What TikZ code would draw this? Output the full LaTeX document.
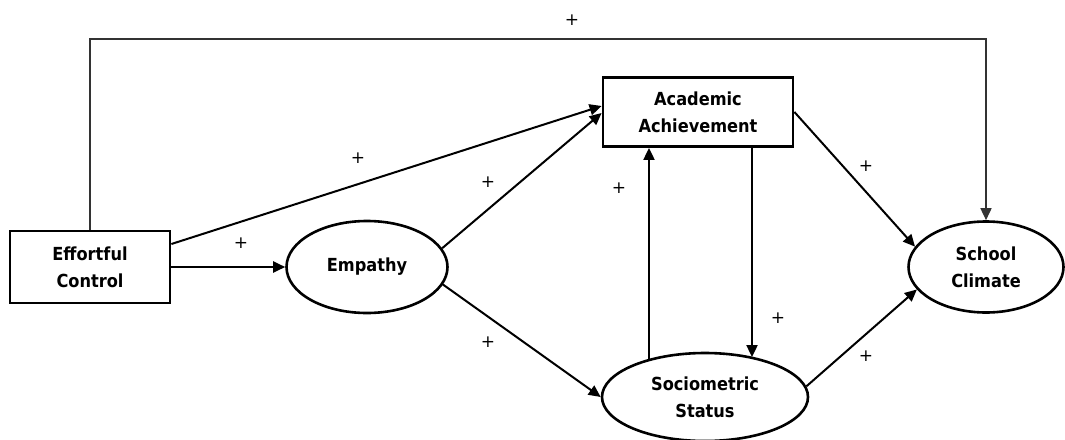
\documentclass[tikz,border=0pt]{standalone}
\usepackage{fontspec}
\setmainfont{DejaVu Sans}
\newfontfamily\boxfont{DejaVu Sans Condensed}
\usetikzlibrary{arrows.meta,shapes.geometric}
\begin{document}
\begin{tikzpicture}[x=1pt,y=-1pt,
  label/.style={font=\boxfont\bfseries\fontsize{18}{27}\selectfont,align=center,inner sep=0pt},
  boxnode/.style={label,draw,line width=2.8pt,rectangle},
  ovalnode/.style={label,draw,line width=2.6pt,ellipse},
  conn/.style={line width=2pt,-{Triangle[length=12pt,width=11pt]}},
  sign/.style={font=\fontsize{17}{17}\selectfont,inner sep=0pt}]
\useasboundingbox (0,0) rectangle (1065,439);

% constructs
\node[boxnode,minimum width=160pt,minimum height=72pt] (ec) at (90,267) {Effortful\\Control};
\node[boxnode,minimum width=190pt,minimum height=69pt] (aa) at (698,112) {Academic\\Achievement};
\node[ovalnode,minimum width=161pt,minimum height=92pt] (emp) at (367,267) {Empathy};
\node[ovalnode,minimum width=206pt,minimum height=88pt] (soc) at (705,397) {Sociometric\\Status};
\node[ovalnode,minimum width=155pt,minimum height=91pt] (sc) at (986,267) {School\\Climate};

% direct path over the top
\coordinate (ridge) at (0,39);
\draw[conn,line width=1.6pt,draw=black!80] (ec.north) |- (sc.north |- ridge) -- (sc.north);

% feet of the two vertical paths between achievement and status
\coordinate (upfoot) at ([xshift=-49pt]aa.south);
\coordinate (downfoot) at ([xshift=54pt]aa.south);

% paths
\draw[conn] ([yshift=23pt]ec.east) -- ([yshift=6pt]aa.west);
\draw[conn] (ec.east) -- (emp.west);
\draw[conn] (emp.14) -- ([yshift=-1pt]aa.west);
\draw[conn] (emp.-13) -- (soc.west);
\draw[conn] (upfoot |- soc.147) -- (upfoot);
\draw[conn] (downfoot) -- (downfoot |- soc.39);
\draw[conn] (aa.east) -- (sc.164);
\draw[conn] (soc.6) -- (sc.198);

% signs
\node[sign] (p1) at (572,20) {+};
\node[sign] (p2) at (358,158) {+};
\node[sign] (p3) at (241,243) {+};
\node[sign] (p4) at (488,182) {+};
\node[sign] (p5) at (488,342) {+};
\node[sign] (p6) at (619,188) {+};
\node[sign] (p7) at (778,318) {+};
\node[sign] (p8) at (866,166) {+};
\node[sign] (p9) at (866,356) {+};
\end{tikzpicture}
\end{document}
